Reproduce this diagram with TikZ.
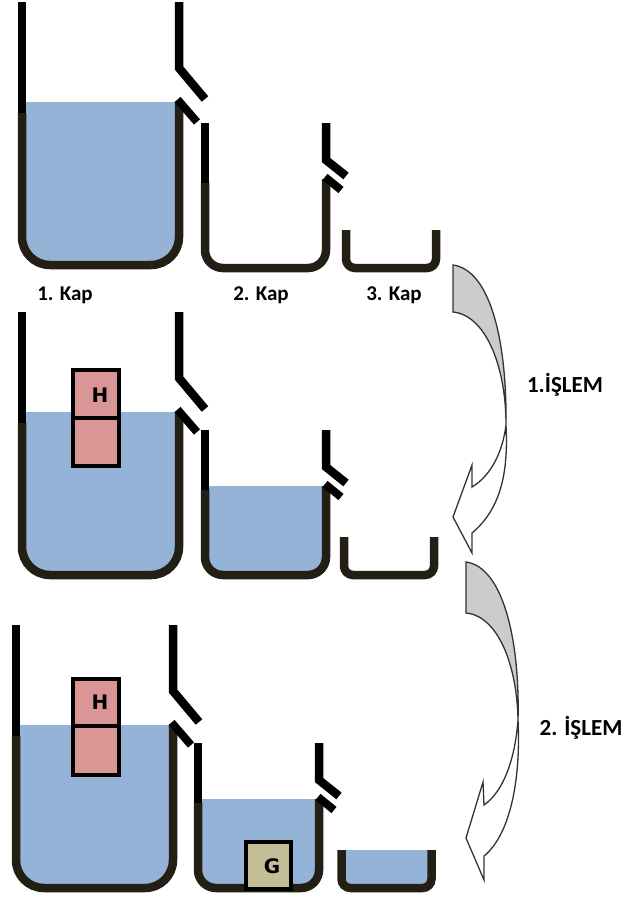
\documentclass[tikz,border=0pt]{standalone}
\usepackage{fontspec}
\setmainfont{Carlito}
\newfontfamily\blockfont{DejaVu Sans}
\definecolor{water}{HTML}{95B3D7}
\definecolor{wallbrown}{HTML}{231F14}
\definecolor{blockred}{HTML}{D99694}
\definecolor{blocksand}{HTML}{C4BD97}
\definecolor{bendgray}{HTML}{CCCCCC}
\begin{document}
\begin{tikzpicture}[x=1pt,y=-1pt]
	\tikzstyle{wallup}=[draw=black, line width=8.5pt, line join=miter]
	\tikzstyle{walllow}=[draw=wallbrown, line width=8.5pt, line join=miter]
	\tikzstyle{lip}=[draw=black, line width=8pt]
	\tikzstyle{waterfill}=[fill=water]
	\tikzstyle{block}=[draw=black, line width=3.5pt]
	\tikzstyle{blocklabel}=[font=\blockfont\fontsize{20}{20}\selectfont\bfseries, anchor=base, inner sep=0pt]
	\tikzstyle{caption}=[font=\fontsize{21}{21}\selectfont\bfseries, text=black, anchor=base, inner sep=0pt]
	\tikzstyle{opcaption}=[font=\fontsize{23}{23}\selectfont\bfseries, text=black, anchor=base, inner sep=0pt]
	\tikzstyle{swoosh}=[draw=black!80, line width=1.3pt, line join=miter]

	% #1 = water level
	\newcommand\BigWater[1]{
		\fill [waterfill] (22,#1) [rounded corners=28pt] -- (22,265) -- (179,265) [sharp corners] -- (179,#1) -- cycle;
	}
	\newcommand\MidWater[1]{
		\fill [waterfill] (205,#1) [rounded corners=18pt] -- (205,268) -- (326,268) [sharp corners] -- (326,#1) -- cycle;
	}
	\newcommand\SmallWater[1]{
		\fill [waterfill] (346,#1) [rounded corners=9pt] -- (346,268) -- (436,268) [sharp corners] -- (436,#1) -- cycle;
	}
	\newcommand\BigCup{
		\path [walllow] (22,113) [rounded corners=28pt] -- (22,265) -- (179,265) [sharp corners] -- (179,102);
		\path [wallup] (22,2) -- (22,113);
		\path [wallup] (179,2) -- (179,68) -- (205,99);
		\path [lip] (177.5,99.5) -- (197,122);
	}
	\newcommand\MidCup{
		\path [walllow] (205,183) [rounded corners=18pt] -- (205,268) -- (326,268) [sharp corners] -- (326,179);
		\path [wallup] (205,123) -- (205,183);
		\path [wallup] (326,123) -- (326,160) -- (346,176);
		\path [lip] (325,177) -- (341,190);
	}
	\newcommand\SmallCup{
		\path [walllow] (346,230) [rounded corners=9pt] -- (346,268) -- (436,268) [sharp corners] -- (436,230);
	}

	% Frame
	\path [use as bounding box] (0,0) rectangle (638,897);

	% First row
	\BigWater{102}
	\BigCup
	\MidCup
	\SmallCup
	\node [caption] at (65,300) (capa) {1. Kap};
	\node [caption] at (261,300) (capb) {2. Kap};
	\node [caption] at (394,300) (capc) {3. Kap};

	% Second row
	\begin{scope}[shift={(0,310)}]
		\BigWater{102}
		\BigCup
	\end{scope}
	\begin{scope}[shift={(0,307)}]
		\MidWater{179}
		\MidCup
	\end{scope}
	\begin{scope}[shift={(-2,307)}]
		\SmallCup
	\end{scope}
	\path [block, fill=blockred] (73,370) rectangle (119,466);
	\path [block] (73,418) -- (119,418);
	\node [blocklabel] at (100,402) (hb) {H};

	% Third row
	\begin{scope}[shift={(-6,623)}]
		\BigWater{102}
		\BigCup
	\end{scope}
	\begin{scope}[shift={(-7,620)}]
		\MidWater{179}
		\MidCup
	\end{scope}
	\begin{scope}[shift={(-4.5,620)}]
		\SmallWater{230}
		\SmallCup
	\end{scope}
	\path [block, fill=blockred] (73,679) rectangle (119,775);
	\path [block] (73,726) -- (119,726);
	\node [blocklabel] at (100,709) (hc) {H};
	\path [block, fill=blocksand] (246,842) rectangle (291,889);
	\node [blocklabel] at (272,873) (gc) {G};

	% Bend arrows
	\path [swoosh, fill=white] (506,425) .. controls (509,480) and (497,512) .. (472,533) -- (472,553) -- (453,517) -- (472,465) -- (472,487) .. controls (492,475) and (503,450) .. (506,425) -- cycle;
	\path [swoosh, fill=bendgray] (453,265) .. controls (490,270) and (507,340) .. (506,425) .. controls (506,365) and (485,315) .. (453,312) -- cycle;
	\node [opcaption] at (565,392) (opa) {1.İŞLEM};

	\path [swoosh, fill=white] (518,720) .. controls (521,780) and (510,835) .. (484,856) -- (484,880) -- (466,838) -- (483,782) -- (484,805) .. controls (503,792) and (515,760) .. (518,720) -- cycle;
	\path [swoosh, fill=bendgray] (466,562) .. controls (503,567) and (520,640) .. (518,720) .. controls (517,665) and (498,616) .. (466,613) -- cycle;
	\node [opcaption] at (581,735) (opb) {2. İŞLEM};
\end{tikzpicture}
\end{document}
